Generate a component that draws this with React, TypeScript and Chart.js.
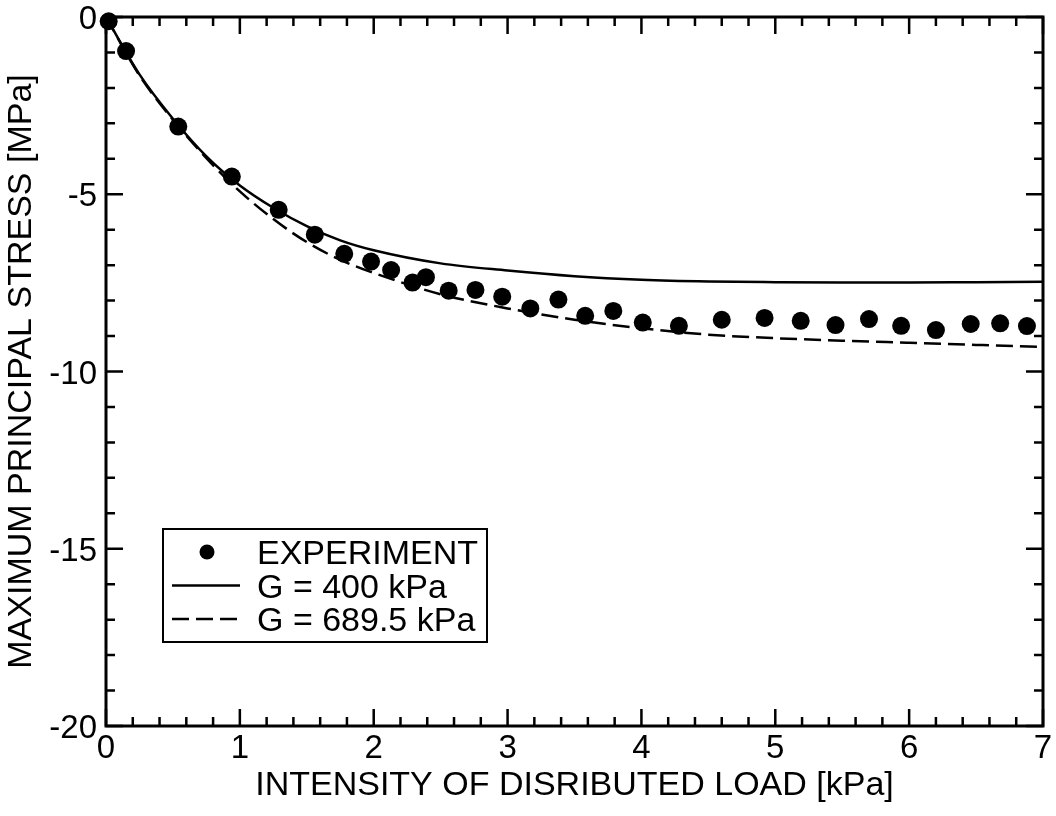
import { useEffect, useRef } from "react";
import { Chart, registerables } from "chart.js";

Chart.register(...registerables);

const FONT = "'Liberation Sans', Arial, Helvetica, sans-serif";

// experiment points: load [kPa] / stress [MPa]
const expLoad = [0.02, 0.15, 0.54, 0.94, 1.29, 1.56, 1.78, 1.98, 2.13, 2.29, 2.39, 2.56, 2.76, 2.96, 3.17, 3.38, 3.58, 3.79, 4.01, 4.28, 4.6, 4.92, 5.19, 5.45, 5.7, 5.94, 6.2, 6.46, 6.68, 6.88];
const expStress = [-0.12, -0.96, -3.09, -4.5, -5.44, -6.14, -6.68, -6.9, -7.14, -7.49, -7.34, -7.72, -7.7, -7.89, -8.22, -7.97, -8.43, -8.29, -8.62, -8.71, -8.54, -8.49, -8.57, -8.69, -8.52, -8.71, -8.83, -8.66, -8.64, -8.72];

// model curves
const modelLoad = [0, 0.25, 0.5, 0.75, 1, 1.25, 1.5, 1.75, 2, 2.5, 3, 3.5, 4, 4.5, 5, 5.5, 6, 6.5, 7];
const stressG400 = [0, -1.62, -2.87, -3.93, -4.75, -5.38, -5.9, -6.3, -6.58, -6.95, -7.15, -7.31, -7.41, -7.46, -7.48, -7.49, -7.49, -7.48, -7.47];
const stressG689 = [0, -1.65, -2.9, -3.98, -4.92, -5.7, -6.35, -6.85, -7.22, -7.82, -8.22, -8.54, -8.78, -8.96, -9.06, -9.13, -9.19, -9.25, -9.31];

const xTickValues = [0, 1, 2, 3, 4, 5, 6, 7];
const yTickValues = [0, -5, -10, -15, -20];

const seriesNames = ["EXPERIMENT", "G = 400 kPa", "G = 689.5 kPa"];
const xTitle = "INTENSITY OF DISRIBUTED LOAD [kPa]";
const yTitle = "MAXIMUM PRINCIPAL STRESS [MPa]";

const DASH = [17, 7];

// frame, inward ticks on all sides, tick labels and the boxed legend
const framePlugin = {
  id: "frameAndLegend",
  afterDraw(chart: any) {
    const { ctx, chartArea: a, scales } = chart;
    const xs = scales.x;
    const ys = scales.y;
    ctx.save();
    ctx.strokeStyle = "#000";
    ctx.fillStyle = "#000";

    ctx.lineWidth = 2.5;
    ctx.beginPath();
    const xTick = (v: number, len: number) => {
      const px = xs.getPixelForValue(v);
      ctx.moveTo(px, a.bottom);
      ctx.lineTo(px, a.bottom - len);
      ctx.moveTo(px, a.top);
      ctx.lineTo(px, a.top + len);
    };
    const yTick = (v: number, len: number) => {
      const py = ys.getPixelForValue(v);
      ctx.moveTo(a.left, py);
      ctx.lineTo(a.left + len, py);
      ctx.moveTo(a.right, py);
      ctx.lineTo(a.right - len, py);
    };
    xTickValues.forEach((v, i) => {
      xTick(v, 17);
      if (i < xTickValues.length - 1) {
        const step = (xTickValues[i + 1] - v) / 5;
        for (let k = 1; k < 5; k++) xTick(v + k * step, 9);
      }
    });
    yTickValues.forEach((v, i) => {
      yTick(v, 17);
      if (i < yTickValues.length - 1) {
        const step = (yTickValues[i + 1] - v) / 5;
        for (let k = 1; k < 5; k++) yTick(v + k * step, 9);
      }
    });
    ctx.stroke();

    ctx.lineWidth = 3;
    ctx.strokeRect(a.left, a.top, a.right - a.left, a.bottom - a.top);

    // tick labels
    ctx.font = `33px ${FONT}`;
    ctx.textBaseline = "alphabetic";
    ctx.textAlign = "center";
    xTickValues.forEach((v) => ctx.fillText(String(v), xs.getPixelForValue(v), a.bottom + 32));
    ctx.textAlign = "right";
    yTickValues.forEach((v) => ctx.fillText(String(v), a.left - 9, ys.getPixelForValue(v) + 12));

    // legend
    const bx = 163, by = 529, bw = 324, bh = 113;
    ctx.fillStyle = "#fff";
    ctx.fillRect(bx, by, bw, bh);
    ctx.lineWidth = 2;
    ctx.strokeRect(bx, by, bw, bh);
    ctx.fillStyle = "#000";
    ctx.font = `34px ${FONT}`;
    ctx.textAlign = "left";
    chart.data.datasets.forEach((ds: any, i: number) => {
      const cy = 552 + i * 33.5;
      if (ds.showLine) {
        ctx.lineWidth = 2.5;
        ctx.setLineDash(ds.borderDash || []);
        ctx.beginPath();
        ctx.moveTo(172, cy);
        ctx.lineTo(240, cy);
        ctx.stroke();
        ctx.setLineDash([]);
      } else {
        ctx.beginPath();
        ctx.arc(207, cy, 7.5, 0, Math.PI * 2);
        ctx.fill();
      }
      ctx.fillText(ds.label, 257, cy + 12);
    });
    ctx.restore();
  },
};

export default function App() {
  const canvasRef = useRef<HTMLCanvasElement>(null);
  const chartRef = useRef<Chart | null>(null);

  useEffect(() => {
    if (!canvasRef.current) return;
    const ctx = canvasRef.current.getContext("2d");
    if (!ctx) return;
    if (chartRef.current) chartRef.current.destroy();

    chartRef.current = new Chart(ctx, {
      type: "scatter",
      data: {
        datasets: [
          {
            label: seriesNames[0],
            data: expLoad.map((x, i) => ({ x, y: expStress[i] })),
            showLine: false,
            pointRadius: 9,
            pointBackgroundColor: "#000",
            pointBorderWidth: 0,
            clip: false,
          },
          {
            label: seriesNames[1],
            data: modelLoad.map((x, i) => ({ x, y: stressG400[i] })),
            showLine: true,
            pointRadius: 0,
            borderColor: "#000",
            borderWidth: 2.5,
            cubicInterpolationMode: "monotone",
          },
          {
            label: seriesNames[2],
            data: modelLoad.map((x, i) => ({ x, y: stressG689[i] })),
            showLine: true,
            pointRadius: 0,
            borderColor: "#000",
            borderWidth: 2.5,
            borderDash: DASH,
            cubicInterpolationMode: "monotone",
          },
        ] as any,
      },
      options: {
        animation: false,
        responsive: false,
        devicePixelRatio: 1,
        layout: { padding: { left: 0, right: 13, top: 17, bottom: 0 } },
        plugins: {
          legend: { display: false },
          tooltip: { enabled: false },
        },
        scales: {
          x: {
            type: "linear",
            min: 0,
            max: 7,
            grid: { display: false },
            border: { display: false },
            ticks: { display: false },
            title: {
              display: true,
              text: xTitle,
              color: "#000",
              font: { family: FONT, size: 34 },
              padding: { top: 0, bottom: 10 },
            },
            afterFit: (s: any) => {
              s.height = 90;
            },
          },
          y: {
            type: "linear",
            min: -20,
            max: 0,
            grid: { display: false },
            border: { display: false },
            ticks: { display: false },
            title: {
              display: true,
              text: yTitle,
              color: "#000",
              font: { family: FONT, size: 34 },
              padding: { top: 1, bottom: 0 },
            },
            afterFit: (s: any) => {
              s.width = 106;
            },
          },
        },
      },
      plugins: [framePlugin],
    });

    return () => {
      if (chartRef.current) {
        chartRef.current.destroy();
        chartRef.current = null;
      }
    };
  }, []);

  return (
    <div style={{ position: "fixed", left: 0, top: 0, width: 1056, height: 816, background: "#fff" }}>
      <canvas ref={canvasRef} width={1056} height={816} style={{ display: "block" }} />
    </div>
  );
}
